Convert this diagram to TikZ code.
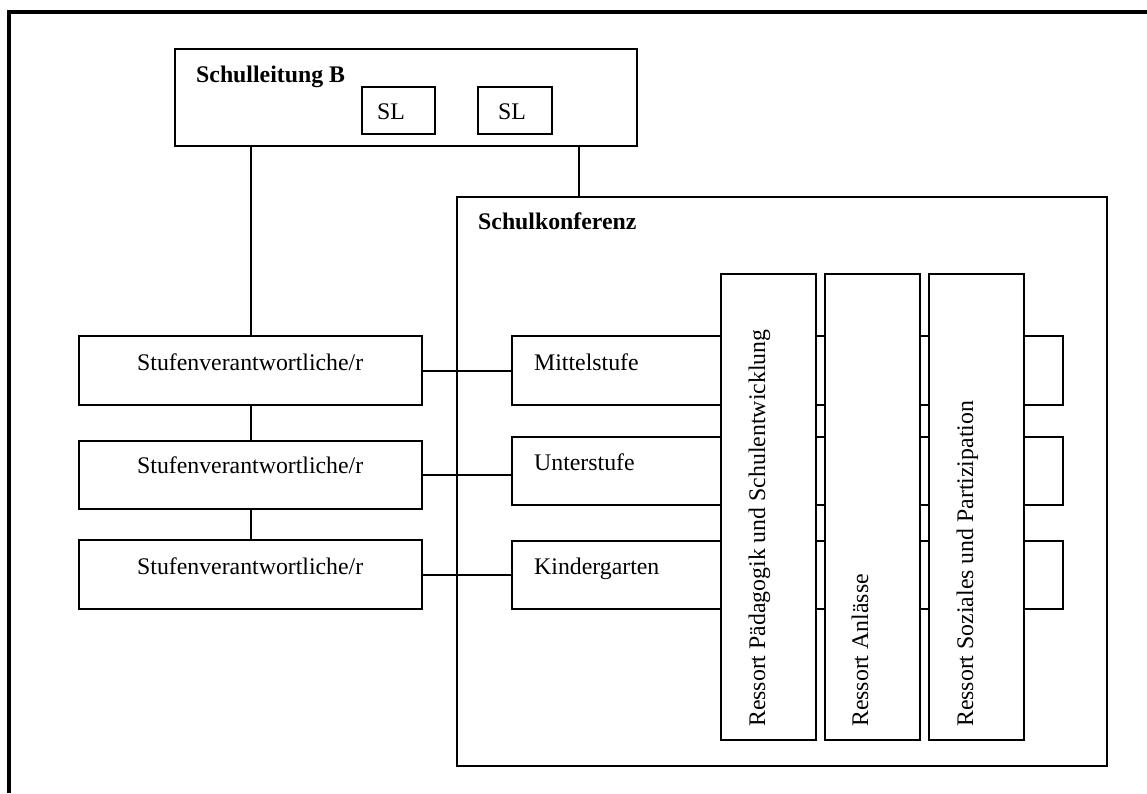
\documentclass[tikz,border=0pt]{standalone}
\usepackage{fontspec}
\setmainfont{Liberation Serif}
\begin{document}
\begin{tikzpicture}[x=1pt,y=-1pt,
  box/.style={draw=black,line width=2pt,rectangle,inner sep=0pt,fill=white},
  txt/.style={inner sep=0pt,anchor=base west,font=\fontsize{23.8}{28}\selectfont},
  btxt/.style={txt,font=\fontsize{23.8}{28}\selectfont\bfseries},
  link/.style={draw=black,line width=2pt}]
\useasboundingbox (0,0) rectangle (1147,793);
\fill[white] (0,0) rectangle (1147,793);
% outer frame (only left and top edges visible)
\draw[line width=4pt] (9,793) -- (9,12) -- (1147,12);

% Schulleitung
\node[box,minimum width=462pt,minimum height=97pt] (sl) at (406,97.5) {};
\node[btxt] (sltitle) at (196,82) {Schulleitung B};
\node[box,minimum width=73pt,minimum height=47pt] (sl1) at (398.5,110.5) {};
\node[txt] (sl1t) at (377,119) {SL};
\node[box,minimum width=74pt,minimum height=47pt] (sl2) at (515,110.5) {};
\node[txt] (sl2t) at (498,119) {SL};

% Schulkonferenz
\node[box,minimum width=650pt,minimum height=569pt] (konf) at (782,481.5) {};
\node[btxt] (konft) at (478,229) {Schulkonferenz};

% Stufenverantwortliche
\node[box,minimum width=343pt,minimum height=69pt] (st1) at (250.5,370.5) {};
\node[txt] (st1t) at (137,370) {Stufenverantwortliche/r};
\node[box,minimum width=343pt,minimum height=68pt] (st2) at (250.5,475) {};
\node[txt] (st2t) at (137,473) {Stufenverantwortliche/r};
\node[box,minimum width=343pt,minimum height=69pt] (st3) at (250.5,574.5) {};
\node[txt] (st3t) at (137,574) {Stufenverantwortliche/r};

% Stufen bands
\node[box,minimum width=551pt,minimum height=69pt] (mit) at (787.5,370.5) {};
\node[txt] (mitt) at (534,370) {Mittelstufe};
\node[box,minimum width=551pt,minimum height=68pt] (unt) at (787.5,471) {};
\node[txt] (untt) at (534,470) {Unterstufe};
\node[box,minimum width=551pt,minimum height=68pt] (kig) at (787.5,575) {};
\node[txt] (kigt) at (534,574) {Kindergarten};

% Ressorts
\node[box,minimum width=95pt,minimum height=466pt] (r1) at (768.5,507) {};
\node[box,minimum width=95pt,minimum height=466pt] (r2) at (872.5,507) {};
\node[box,minimum width=95pt,minimum height=466pt] (r3) at (976.5,507) {};
\node[txt,rotate=90] (r1t) at (765,727) {Ressort Pädagogik und Schulentwicklung};
\node[txt,rotate=90] (r2t) at (868,727) {Ressort Anlässe};
\node[txt,rotate=90] (r3t) at (973,727) {Ressort Soziales und Partizipation};

% connectors
\coordinate (k) at (579,0);
\draw[link] (sl.south -| st1.north) -- (st1.north);
\draw[link] (sl.south -| k) -- (konf.north -| k);
\draw[link] (st1.south) -- (st2.north);
\draw[link] (st2.south) -- (st3.north);
\draw[link] (st1.east) -- (st1.east -| mit.west);
\draw[link] (st2.east) -- (st2.east -| unt.west);
\draw[link] (st3.east) -- (st3.east -| kig.west);
\end{tikzpicture}
\end{document}
